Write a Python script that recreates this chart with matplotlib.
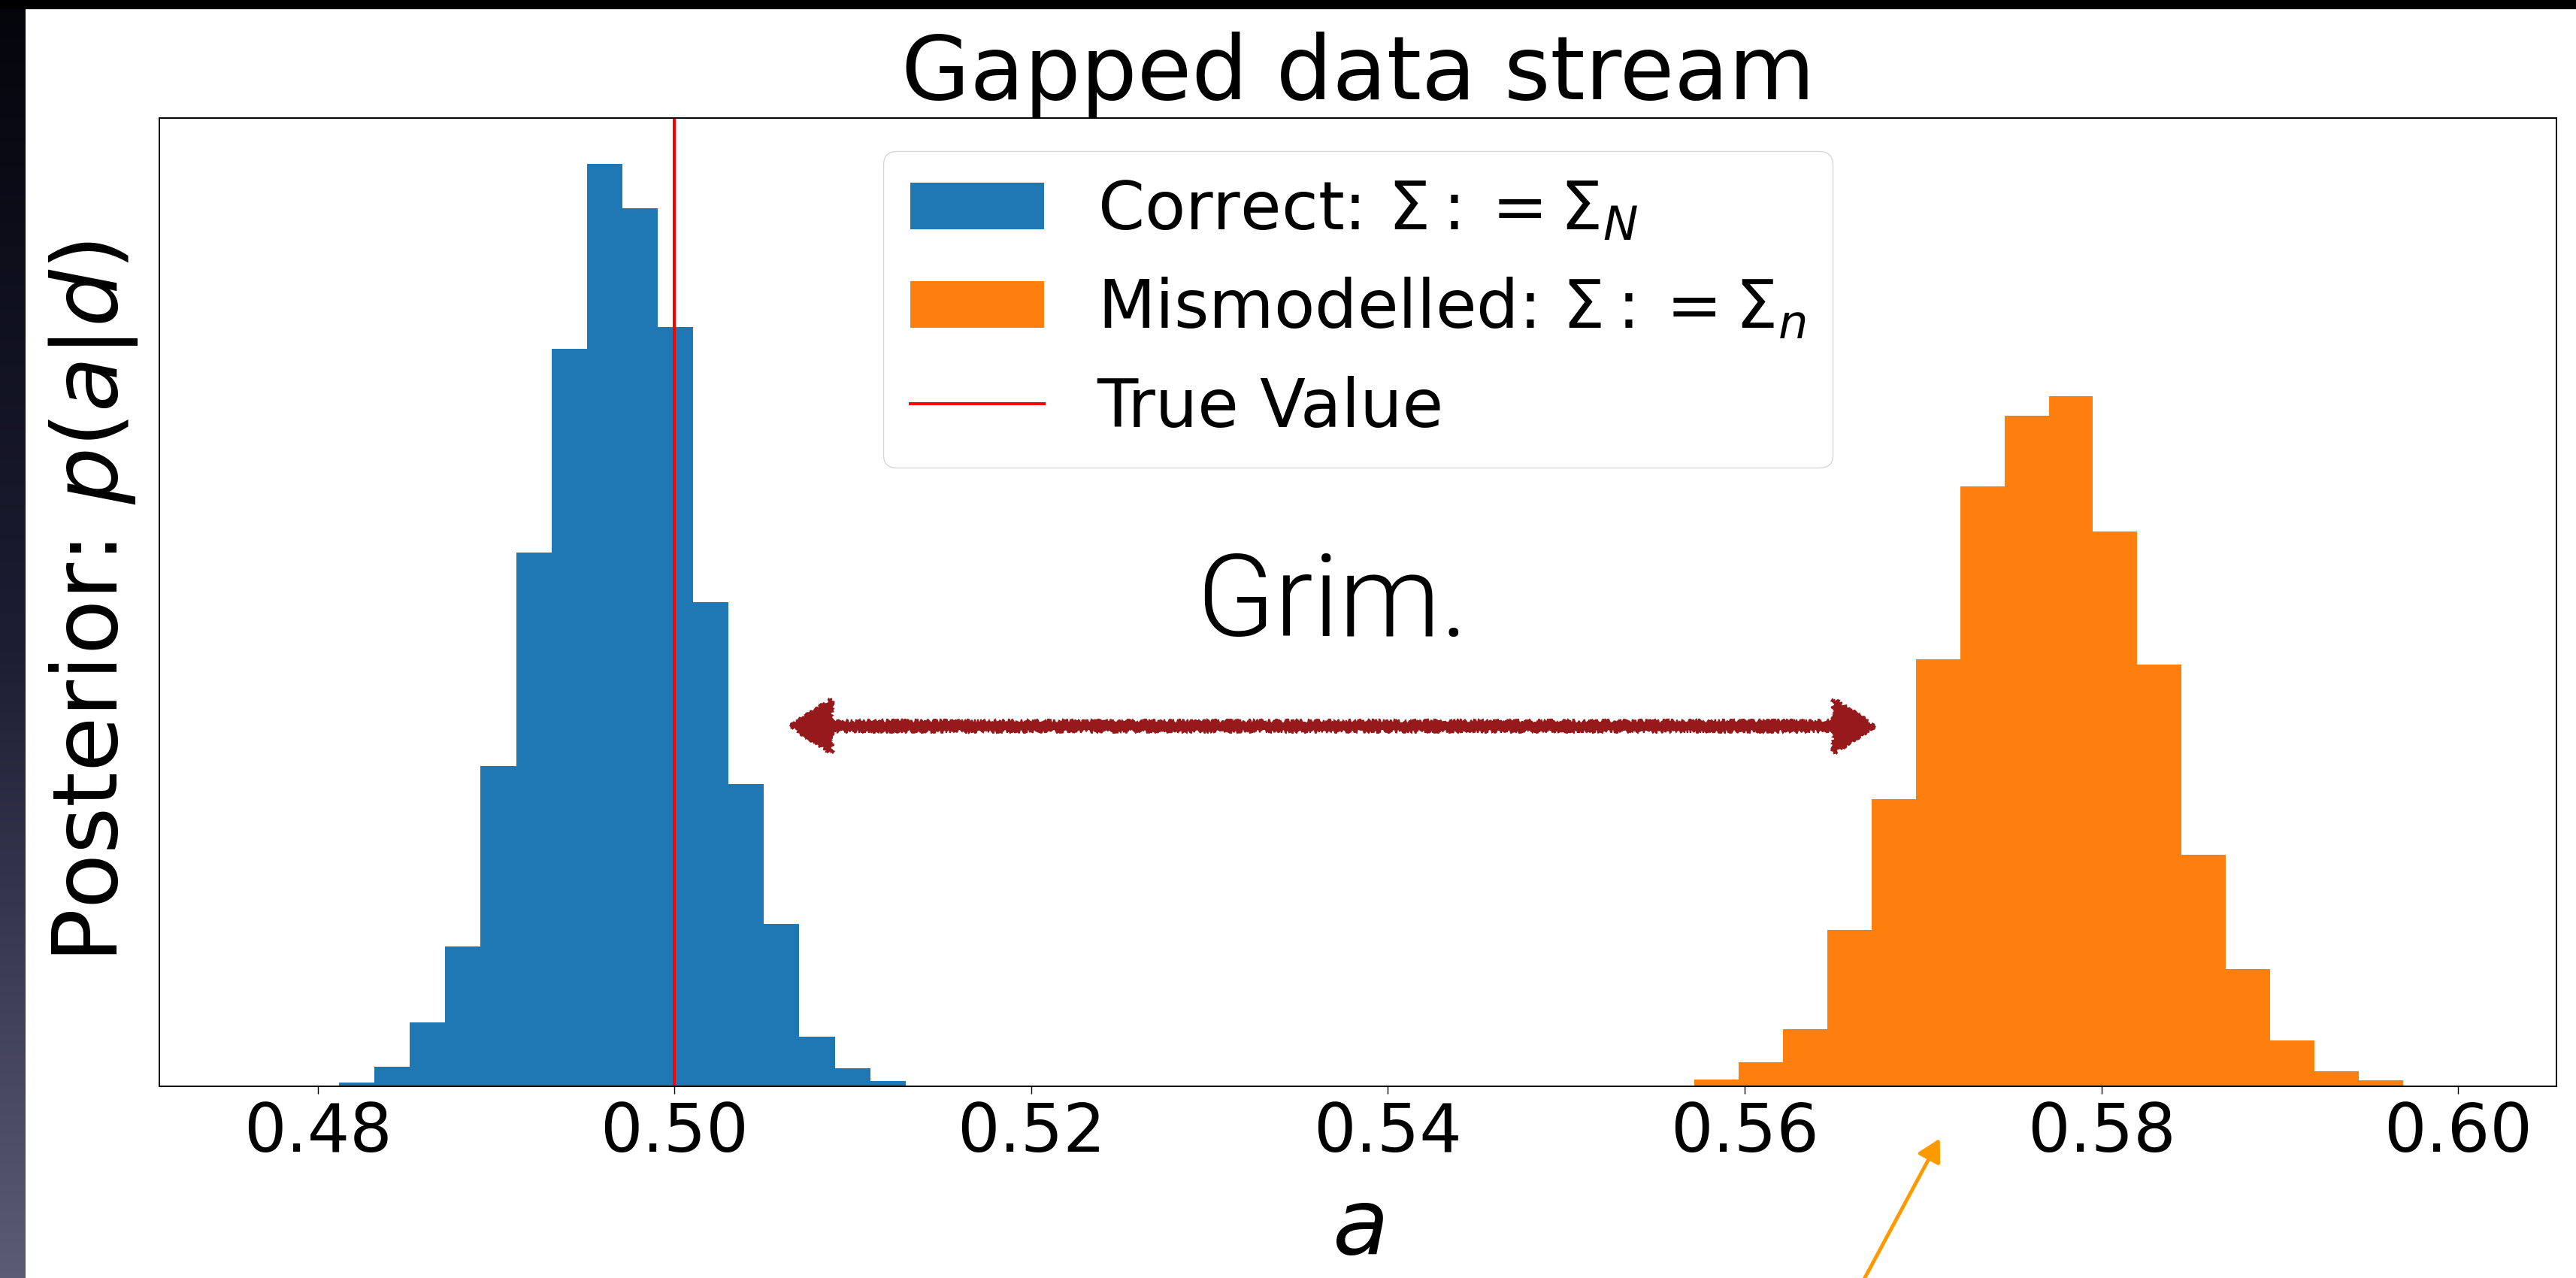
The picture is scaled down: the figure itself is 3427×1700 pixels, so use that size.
import numpy as np
import matplotlib
matplotlib.use("Agg")
import matplotlib.pyplot as plt
from matplotlib.patches import Rectangle

# posterior histograms (density)
blue_range = (0.47920, 0.51494)
blue_density = [0.02, 0.35, 1.82, 5.99, 13.02, 29.88, 49.76, 68.82, 86.03,
                81.90, 70.80, 45.17, 28.19, 15.17, 4.65, 1.68, 0.49, 0.02]
orange_range = (0.55469, 0.59941)
orange_density = [0.07, 0.65, 2.24, 5.33, 14.58, 26.78, 39.82, 55.94, 62.53,
                  64.35, 51.73, 39.33, 21.59, 10.94, 4.28, 1.40, 0.56, 0.04]
true_value = 0.5
xticks = [0.48, 0.50, 0.52, 0.54, 0.56, 0.58, 0.60]
labels = [r'Correct: $\Sigma := \Sigma_N$',
          r'Mismodelled: $\Sigma := \Sigma_n$',
          'True Value']

plt.rcParams['font.family'] = ['DejaVu Sans']

fig = plt.figure(figsize=(34.27, 17.0), dpi=100)
fig.patch.set_facecolor('white')
ax = fig.add_axes([0.06186, 0.15, 0.93055, 0.75765])


def hist_from(ax, rng, dens, color, label):
    edges = np.linspace(rng[0], rng[1], len(dens) + 1)
    centers = 0.5 * (edges[:-1] + edges[1:])
    _, _, bars = ax.hist(centers, bins=edges, weights=dens, color=color,
                         label=label)
    return bars


b1 = hist_from(ax, blue_range, blue_density, '#1f77b4', labels[0])
b2 = hist_from(ax, orange_range, orange_density, '#ff7f0e', labels[1])
vl = ax.axvline(true_value, color='red', lw=2.9, label=labels[2])

ax.set_xlim(0.47111, 0.60552)
ax.set_xticks(xticks)
ax.set_xticklabels([f'{t:.2f}' for t in xticks])
ax.set_yticks([])
ax.tick_params(axis='x', labelsize=64, length=7, width=1.0, pad=7)
for s in ax.spines.values():
    s.set_linewidth(1.4)

ax.set_title('Gapped data stream', fontsize=85, pad=17)
ax.set_xlabel('$a$', fontsize=88, labelpad=18)
ax.set_ylabel('Posterior: $p(a|d)$', fontsize=86, labelpad=19)

ax.legend([b1[0], b2[0], vl], labels, loc='upper center', fontsize=64)

# hand-drawn looking double arrow with "Grim."
arrow_y = 33.6
left, right = 0.50647, 0.56733
mid = 0.5 * (left + right)
for x_end in (left, right):
    arr = ax.arrow(mid, arrow_y, x_end - mid, 0, width=0.91, head_width=5.1,
                   head_length=0.00236, length_includes_head=True,
                   color='#961a1c', lw=1.5, zorder=5)
    arr.set_sketch_params(scale=2.5, length=3, randomness=40)

ax.text(0.53686, 42.0, 'Grim.', fontsize=110, ha='center', va='baseline',
        family=['Roboto', 'DejaVu Sans'], fontweight=300)

# slide decoration: dark top band, gradient strip on the left
fig.patches.append(Rectangle((0, 1 - 11 / 1700), 1, 11 / 1700,
                             transform=fig.transFigure, color='black',
                             zorder=10))
strip = fig.add_axes([0, 0, 33 / 3427, 1 - 11 / 1700])
grad = np.linspace(0, 1, 256)[:, None]
cmap = matplotlib.colors.LinearSegmentedColormap.from_list(
    'slide', ['#05050c', '#1c1d33', '#5a5c74'])
strip.imshow(grad, aspect='auto', cmap=cmap, origin='upper')
strip.set_axis_off()

# orange pointer arrow on the slide
fig.add_artist(matplotlib.patches.FancyArrowPatch(
    (2470, -20), (2582, 188), transform=None,
    arrowstyle='-|>,head_length=0.9,head_width=0.5', mutation_scale=20,
    color='#ff9900', lw=3.5))

fig.savefig('out.png', dpi=100)
